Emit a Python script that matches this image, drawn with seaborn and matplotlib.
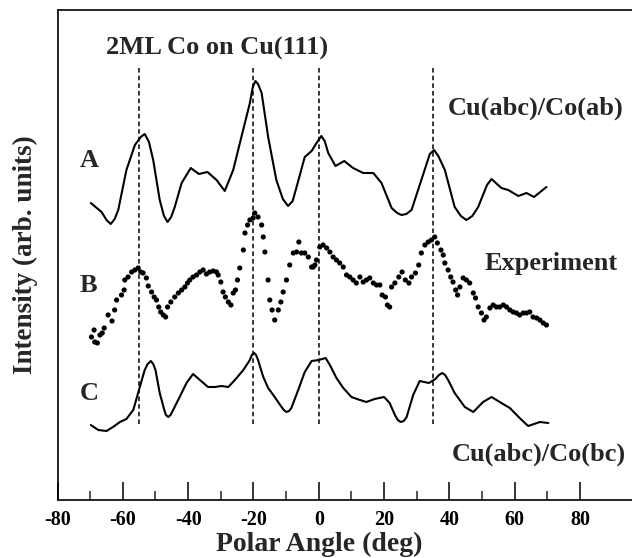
import matplotlib
matplotlib.use("Agg")
import matplotlib.pyplot as plt
import seaborn as sns
import pandas as pd

# ---- data ----
angle_A = [-69.8, -66.5, -65.0, -63.7, -62.5, -61.4, -58.9, -56.3, -54.5, -53.3, -52.0, -50.7,
           -48.7, -47.4, -46.3, -45.2, -44.1, -42.0, -39.2, -36.7, -34.1, -31.3, -28.8, -26.2,
           -23.7, -21.1, -20.2, -19.4, -18.6, -17.5, -15.5, -13.0, -11.0, -9.4, -8.0, -6.8,
           -4.3, -2.2, -0.5, 0.8, 1.8, 2.9, 5.1, 7.8, 10.5, 13.6, 16.7, 19.2, 22.3, 24.0, 25.3,
           26.8, 28.4, 31.4, 34.0, 35.3, 36.6, 38.6, 41.6, 43.5, 45.2, 47.0, 48.8, 51.5, 52.9,
           55.9, 58.0, 61.1, 63.6, 65.9, 69.7]
value_A = [29.7, 28.8, 28.0, 27.6, 28.1, 29.0, 33.0, 35.5, 36.3, 36.6, 35.8, 34.0,
           30.0, 28.4, 27.8, 28.3, 29.3, 31.7, 33.2, 32.6, 32.8, 32.0, 30.9, 33.0,
           36.3, 39.7, 41.3, 41.9, 41.6, 40.7, 36.3, 32.0, 30.1, 29.4, 29.9, 31.3,
           34.3, 34.9, 35.8, 36.4, 35.9, 34.7, 33.4, 33.9, 33.2, 32.7, 32.7, 31.7, 29.2, 28.7, 28.5,
           28.6, 29.0, 32.0, 34.6, 35.0, 34.4, 33.0, 29.3, 28.4, 28.0, 28.4, 29.3, 31.5, 32.1,
           31.2, 31.0, 30.4, 30.7, 30.3, 31.3]

angle_B = [-69.6, -68.6, -67.8, -68.8, -67.0, -65.7, -66.3, -64.5, -63.3, -62.5, -61.9, -60.4,
           -59.6, -59.4, -58.4, -57.3, -56.3, -55.3, -54.5, -53.8, -52.8, -52.2, -51.2, -50.4,
           -49.7, -49.0, -48.4, -47.6, -46.9, -46.3, -45.3, -44.1, -43.0, -42.0, -41.0, -40.2,
           -39.5, -38.5, -37.4, -36.4, -35.4, -34.4, -33.4, -32.3, -31.3, -30.8, -30.0, -29.3,
           -28.6, -27.7, -26.9, -26.2, -25.5, -24.9, -24.2, -23.1, -22.6, -21.8, -21.1, -20.1,
           -19.6, -18.6, -17.5, -17.0, -16.5, -15.5, -15.0, -14.3, -13.5, -12.4, -11.6, -10.9,
           -9.9, -8.9, -7.8, -6.8, -6.1, -5.3, -4.3, -3.2, -2.2, -1.2, -1.7, -0.7, 0.3, 1.3,
           2.4, 3.4, 4.4, 5.4, 6.4, 7.5, 8.5, 9.5, 10.5, 11.5, 12.6, 13.6, 14.6, 15.6, 16.7,
           17.7, 18.7, 19.4, 20.4, 21.0, 21.7, 22.3, 23.3, 24.5, 25.5, 26.5, 27.6, 28.4, 29.6,
           30.6, 31.4, 32.5, 33.5, 34.5, 35.5, 36.3, 37.4, 38.1, 38.6, 39.6, 40.4, 41.1, 41.9,
           42.5, 43.2, 44.2, 45.2, 46.2, 47.3, 48.0, 48.8, 49.8, 50.6, 51.3, 52.4, 53.4, 54.4,
           55.4, 56.5, 57.5, 58.5, 59.5, 60.5, 61.5, 62.6, 63.6, 64.6, 65.6, 66.7, 67.7, 68.7, 69.7]
value_B = [16.3, 15.8, 15.7, 17.0, 16.5, 17.2, 16.7, 18.5, 17.9, 19.0, 20.0, 20.5,
           21.0, 22.0, 22.3, 22.8, 23.0, 23.2, 22.8, 22.7, 22.2, 21.4, 20.8, 20.3,
           20.0, 19.3, 18.8, 18.5, 18.3, 19.3, 19.8, 20.3, 20.7, 21.0, 21.3, 21.7,
           22.0, 22.3, 22.5, 22.8, 23.0, 22.6, 22.8, 22.9, 22.8, 22.5, 21.8, 20.8,
           20.3, 19.8, 19.5, 20.7, 21.0, 22.0, 23.2, 25.0, 26.7, 27.5, 28.0, 28.2,
           28.7, 28.3, 27.5, 26.3, 24.8, 22.0, 20.0, 19.0, 18.0, 19.0, 19.8, 20.8,
           22.0, 23.5, 24.7, 24.8, 25.8, 24.7, 24.7, 24.3, 23.3, 23.5, 23.3, 24.0, 25.3, 25.5,
           25.2, 24.8, 24.3, 24.0, 23.7, 23.3, 22.5, 22.3, 22.0, 21.7, 22.3, 21.8, 22.0, 22.2, 21.7,
           21.5, 21.5, 20.5, 20.3, 19.5, 19.3, 21.3, 21.7, 22.3, 22.8, 22.0, 21.7, 22.3, 22.7,
           23.5, 24.7, 25.5, 25.8, 26.0, 26.3, 25.7, 25.0, 24.5, 23.7, 23.0, 22.3, 21.8, 21.0,
           20.5, 21.3, 22.2, 22.0, 21.7, 20.7, 20.2, 19.3, 18.7, 18.0, 18.3, 19.2, 19.5, 19.3,
           19.3, 19.5, 19.3, 19.0, 18.8, 18.7, 18.5, 18.7, 18.7, 18.8, 18.3, 18.2, 18.0, 17.7, 17.5]

angle_C = [-69.8, -67.5, -65.0, -63.0, -60.9, -58.9, -56.8, -54.8, -53.3, -52.4, -51.4, -50.7,
           -50.0, -48.7, -47.3, -46.8, -46.1, -45.4, -44.6, -42.6, -40.5, -38.5, -36.4, -33.9,
           -31.8, -29.8, -27.7, -25.7, -23.1, -21.1, -20.5, -19.8, -19.2, -18.6, -17.0, -15.5,
           -13.5, -11.4, -10.7, -9.9, -9.1, -8.4, -6.3, -4.3, -2.2, 0.0, 2.1, 3.4, 5.4, 7.5, 10.0,
           12.6, 14.6, 17.1, 20.0, 21.7, 23.3, 24.2, 25.1, 26.0, 26.9, 28.9, 30.9, 33.7, 35.7,
           36.8, 37.8, 38.7, 39.6, 41.6, 44.7, 47.3, 50.3, 52.9, 55.4, 58.5, 61.5, 64.1, 65.9,
           67.7, 70.3]
value_C = [7.5, 7.0, 6.9, 7.3, 7.8, 8.1, 9.0, 11.3, 13.0, 13.6, 13.9, 13.6,
           13.0, 10.7, 9.0, 8.5, 8.3, 8.5, 9.0, 10.3, 11.7, 12.6, 12.0, 11.3,
           11.3, 11.4, 11.3, 12.0, 13.0, 14.0, 14.5, 14.7, 14.5, 14.0, 12.3, 11.2,
           10.3, 9.3, 9.0, 8.8, 8.9, 9.2, 11.0, 12.8, 13.9, 14.0, 14.2, 13.5, 12.2, 11.2, 10.3,
           10.0, 9.8, 10.1, 10.3, 9.7, 8.5, 8.0, 7.8, 7.9, 8.3, 10.5, 11.9, 11.7, 12.1,
           12.5, 12.7, 12.5, 12.0, 10.7, 9.3, 8.8, 9.8, 10.3, 9.8, 9.2, 8.2, 7.4, 7.6,
           7.8, 7.7]

guide_angles = [-55, -20, 0, 35]
major_ticks = [-80, -60, -40, -20, 0, 20, 40, 60, 80]
minor_ticks = [-70, -50, -30, -10, 10, 30, 50, 70]

# ---- style ----
sns.set_style("ticks")
plt.rcParams['font.family'] = ['Liberation Serif', 'DejaVu Serif']
plt.rcParams['font.weight'] = 'bold'
plt.rcParams['axes.unicode_minus'] = False

fig = plt.figure(figsize=(6.32, 5.58), dpi=100)
W, H = 632, 558
ax = fig.add_axes([57.5 / W, (H - 500) / H, (W - 57.5) / W, 490 / H])

dfA = pd.DataFrame({"angle": angle_A, "val": value_A})
dfB = pd.DataFrame({"angle": angle_B, "val": value_B})
dfC = pd.DataFrame({"angle": angle_C, "val": value_C})

sns.lineplot(data=dfA, x="angle", y="val", ax=ax, color="black", lw=1.5, sort=False)
sns.lineplot(data=dfC, x="angle", y="val", ax=ax, color="black", lw=1.5, sort=False)
sns.scatterplot(data=dfB, x="angle", y="val", ax=ax, color="black", s=14, edgecolor="none")

ax.vlines(guide_angles, 7.6, 43.2, colors="black", linestyles=(0, (3, 2)), lw=1.1)

ax.set_xlim(-80, 95.9)
ax.set_ylim(0, 49)
ax.set_xticks(major_ticks)
ax.set_xticks(minor_ticks, minor=True)
ax.set_yticks([])
ax.tick_params(axis='x', which='major', direction='in', length=13, width=1.1,
               labelsize=14.5, pad=7.5, colors='black')
ax.tick_params(axis='x', which='minor', direction='in', length=6.5, width=1.1)
for lab in ax.get_xticklabels():
    lab.set_fontweight('bold')

for side in ['left', 'top', 'bottom']:
    ax.spines[side].set_linewidth(1.2)
    ax.spines[side].set_color('black')
ax.spines['right'].set_visible(False)

ax.set_xlabel("Polar Angle (deg)", fontsize=20, fontweight='bold')
ax.set_ylabel("Intensity (arb. units)", fontsize=19.5, fontweight='bold')
ax.xaxis.set_label_coords((0 + 80) / 175.9, -0.066)
ax.yaxis.set_label_coords(-0.034, 0.5)

tk = dict(fontsize=19, fontweight='bold', va='baseline')
ax.text(-65.1, 44.5, "2ML Co on Cu(111)", ha='left', **tk)
ax.text(39.6, 38.5, "Cu(abc)/Co(ab)", ha='left', **tk)
ax.text(-70.3, 33.3, "A", ha='center', **tk)
ax.text(-70.6, 20.8, "B", ha='center', **tk)
ax.text(-70.2, 10.0, "C", ha='center', **tk)
ax.text(50.9, 23.0, "Experiment", ha='left', **tk)
ax.text(40.7, 3.9, "Cu(abc)/Co(bc)", ha='left', **tk)

fig.savefig("out.png", dpi=100)
